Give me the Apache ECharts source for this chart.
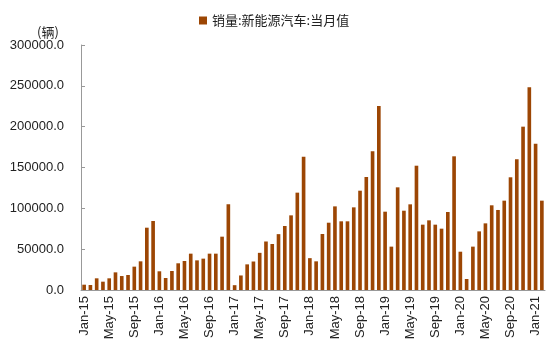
<!DOCTYPE html>
<html>
<head>
<meta charset="utf-8">
<script src="https://cdn.jsdelivr.net/npm/echarts@6/dist/echarts.min.js"></script>
<style>
  html, body { margin: 0; padding: 0; background: #fff; }
  #show_picture { width: 550px; height: 351px; }
</style>
</head>
<body>
<div id="show_picture"></div>
<script>
// 月份 Jan-15 ~ Feb-21
const months = [];
const mon = ['Jan','Feb','Mar','Apr','May','Jun','Jul','Aug','Sep','Oct','Nov','Dec'];
for (let y = 15; y <= 21; y++) {
    for (let m = 0; m < 12; m++) {
        if (y === 21 && m > 1) break;
        months.push(mon[m] + '-' + y);
    }
}

const seriesName = '销量:新能源汽车:当月值';

const sales = [
    6500, 6100, 14300, 10200, 14300, 21600, 17100, 18400, 28600, 35100, 76300, 84500,
    22900, 14700, 23300, 32700, 35500, 44500, 36300, 38400, 44500, 44500, 65300, 105000,
    5900, 17800, 31400, 34900, 45500, 59400, 56300, 68400, 78400, 91400, 119200, 163300,
    39000, 35100, 68600, 82400, 102400, 84100, 84100, 101200, 121600, 138400, 169800, 225300,
    95900, 53100, 125700, 97100, 104900, 152200, 80000, 85300, 80000, 75100, 95500, 163700,
    46900, 13500, 53100, 71800, 81600, 103700, 98000, 109400, 138000, 160000, 200000, 248200,
    179200, 109400
];

const yTicks = [0, 50000, 100000, 150000, 200000, 250000, 300000];

let myChart = echarts.init(document.getElementById('show_picture'));
let option = {
    animation: false,
    title: {
        text: '(辆)',
        left: 32,
        top: 21,
        textStyle: { fontSize: 13, fontWeight: 'normal', color: '#222', fontFamily: 'Noto Sans CJK SC' }
    },
    legend: {
        data: [seriesName],
        left: 194,
        top: 9,
        itemWidth: 8,
        itemHeight: 8,
        itemGap: 3,
        icon: 'rect',
        textStyle: { fontSize: 13, color: '#222', fontFamily: 'Noto Sans CJK SC' }
    },
    grid: { left: 81, right: 5, top: 45, bottom: 61 },
    xAxis: {
        type: 'category',
        data: months,
        boundaryGap: true,
        axisLine: { lineStyle: { color: '#999' } },
        axisTick: { interval: 3, alignWithLabel: true, length: 4, lineStyle: { color: '#999' } },
        axisLabel: {
            interval: 3,
            rotate: 90,
            fontSize: 13,
            color: '#222',
            fontFamily: 'Liberation Sans',
            margin: 6
        },
        splitLine: { show: false }
    },
    yAxis: {
        type: 'value',
        min: yTicks[0],
        max: yTicks[yTicks.length - 1],
        interval: 50000,
        axisLine: { show: true, lineStyle: { color: '#999' } },
        axisTick: { show: true, inside: true, length: 4, lineStyle: { color: '#999' } },
        axisLabel: {
            formatter: v => v.toFixed(1),
            fontSize: 13,
            color: '#222',
            fontFamily: 'Liberation Sans',
            margin: 17
        },
        splitLine: { show: false }
    },
    series: [
        {
            name: seriesName,
            type: 'bar',
            data: sales,
            barWidth: '58%',
            itemStyle: { color: '#9C4604' }
        }
    ]
};

option && myChart.setOption(option);
</script>
</body>
</html>
